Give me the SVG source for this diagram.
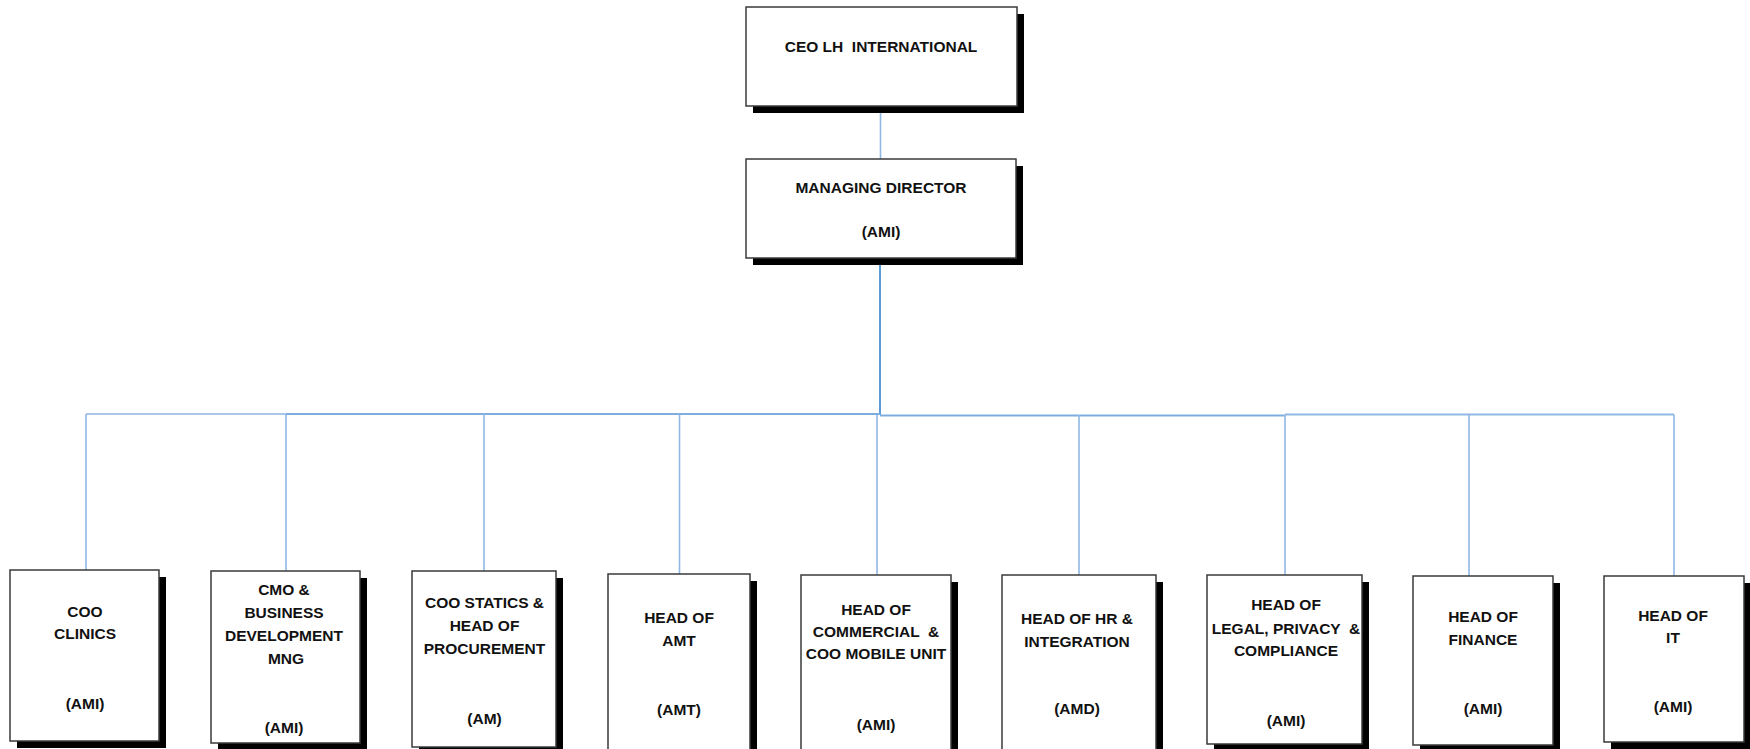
<svg xmlns="http://www.w3.org/2000/svg" width="1750" height="749" viewBox="0 0 1750 749">
<style>
  .box { fill: #ffffff; stroke: #3a3a3a; stroke-width: 1.5; }
  .shadow { fill: #000000; }
  .t { font-family: "Liberation Sans", Arial, sans-serif; font-weight: bold; font-size: 15.5px; fill: #111111; text-anchor: middle; }
  .drop { stroke: #8fb8e4; stroke-width: 1.6; fill: none; }
  .bus { stroke: #80ade0; stroke-width: 2; fill: none; }
  .main { stroke: #5b9bd5; stroke-width: 2; fill: none; }
</style>
<rect width="1750" height="749" fill="#ffffff"/>

<g id="connectors">
  <line class="drop" x1="880.5" y1="106" x2="880.5" y2="159"/>
  <line class="main" x1="880" y1="258" x2="880" y2="415"/>
  <line class="bus" x1="86" y1="414" x2="286" y2="414" style="stroke:#a9c8ea"/>
  <line class="bus" x1="286" y1="414" x2="880" y2="414"/>
  <line class="bus" x1="880" y1="415.5" x2="1285" y2="415.5"/>
  <line class="bus" x1="1285" y1="414.5" x2="1674" y2="414.5" style="stroke:#8fb8e4"/>
  <line class="drop" x1="86" y1="414" x2="86" y2="570"/>
  <line class="drop" x1="286" y1="414" x2="286" y2="571"/>
  <line class="drop" x1="484" y1="414" x2="484" y2="571"/>
  <line class="drop" x1="679.5" y1="414" x2="679.5" y2="574"/>
  <line class="drop" x1="877" y1="415" x2="877" y2="575"/>
  <line class="drop" x1="1079" y1="415" x2="1079" y2="575"/>
  <line class="drop" x1="1285" y1="415" x2="1285" y2="575"/>
  <line class="drop" x1="1469" y1="414.5" x2="1469" y2="576"/>
  <line class="drop" x1="1674" y1="414.5" x2="1674" y2="576"/>
</g>

<g id="ceo">
  <rect class="shadow" x="753" y="14" width="271" height="99"/>
  <rect class="box" x="746" y="7" width="271" height="99"/>
  <text class="t" x="881" y="52" xml:space="preserve">CEO LH  INTERNATIONAL</text>
</g>

<g id="md">
  <rect class="shadow" x="753" y="166" width="270" height="99"/>
  <rect class="box" x="746" y="159" width="270" height="99"/>
  <text class="t" x="881" y="193">MANAGING DIRECTOR</text>
  <text class="t" x="881" y="237">(AMI)</text>
</g>

<g id="coo-clinics">
  <rect class="shadow" x="17" y="577" width="149" height="171"/>
  <rect class="box" x="10" y="570" width="149" height="171"/>
  <text class="t" x="85" y="617">COO</text>
  <text class="t" x="85" y="639">CLINICS</text>
  <text class="t" x="85" y="709">(AMI)</text>
</g>

<g id="cmo">
  <rect class="shadow" x="218" y="578" width="149" height="172"/>
  <rect class="box" x="211" y="571" width="149" height="172"/>
  <text class="t" x="284" y="595">CMO &amp;</text>
  <text class="t" x="284" y="618">BUSINESS</text>
  <text class="t" x="284" y="641">DEVELOPMENT</text>
  <text class="t" x="286" y="664">MNG</text>
  <text class="t" x="284" y="733">(AMI)</text>
</g>

<g id="coo-statics">
  <rect class="shadow" x="419" y="578" width="144" height="176"/>
  <rect class="box" x="412" y="571" width="144" height="176"/>
  <text class="t" x="484.5" y="608">COO STATICS &amp;</text>
  <text class="t" x="484.5" y="631">HEAD OF</text>
  <text class="t" x="484.5" y="654">PROCUREMENT</text>
  <text class="t" x="484.5" y="724">(AM)</text>
</g>

<g id="head-amt">
  <rect class="shadow" x="615" y="581" width="142" height="180"/>
  <rect class="box" x="608" y="574" width="142" height="180"/>
  <text class="t" x="679" y="623">HEAD OF</text>
  <text class="t" x="679" y="646">AMT</text>
  <text class="t" x="679" y="715">(AMT)</text>
</g>

<g id="head-commercial">
  <rect class="shadow" x="808" y="582" width="150" height="180"/>
  <rect class="box" x="801" y="575" width="150" height="180"/>
  <text class="t" x="876" y="615">HEAD OF</text>
  <text class="t" x="876" y="637" xml:space="preserve">COMMERCIAL  &amp;</text>
  <text class="t" x="876" y="659">COO MOBILE UNIT</text>
  <text class="t" x="876" y="730">(AMI)</text>
</g>

<g id="head-hr">
  <rect class="shadow" x="1009" y="582" width="154" height="180"/>
  <rect class="box" x="1002" y="575" width="154" height="180"/>
  <text class="t" x="1077" y="624">HEAD OF HR &amp;</text>
  <text class="t" x="1077" y="647">INTEGRATION</text>
  <text class="t" x="1077" y="714">(AMD)</text>
</g>

<g id="head-legal">
  <rect class="shadow" x="1214" y="582" width="155" height="169"/>
  <rect class="box" x="1207" y="575" width="155" height="169"/>
  <text class="t" x="1286" y="610">HEAD OF</text>
  <text class="t" x="1286" y="634" xml:space="preserve">LEGAL, PRIVACY  &amp;</text>
  <text class="t" x="1286" y="656">COMPLIANCE</text>
  <text class="t" x="1286" y="726">(AMI)</text>
</g>

<g id="head-finance">
  <rect class="shadow" x="1420" y="583" width="140" height="169"/>
  <rect class="box" x="1413" y="576" width="140" height="169"/>
  <text class="t" x="1483" y="622">HEAD OF</text>
  <text class="t" x="1483" y="645">FINANCE</text>
  <text class="t" x="1483" y="714">(AMI)</text>
</g>

<g id="head-it">
  <rect class="shadow" x="1611" y="583" width="140" height="166"/>
  <rect class="box" x="1604" y="576" width="140" height="166"/>
  <text class="t" x="1673" y="621">HEAD OF</text>
  <text class="t" x="1673" y="643">IT</text>
  <text class="t" x="1673" y="712">(AMI)</text>
</g>
</svg>
